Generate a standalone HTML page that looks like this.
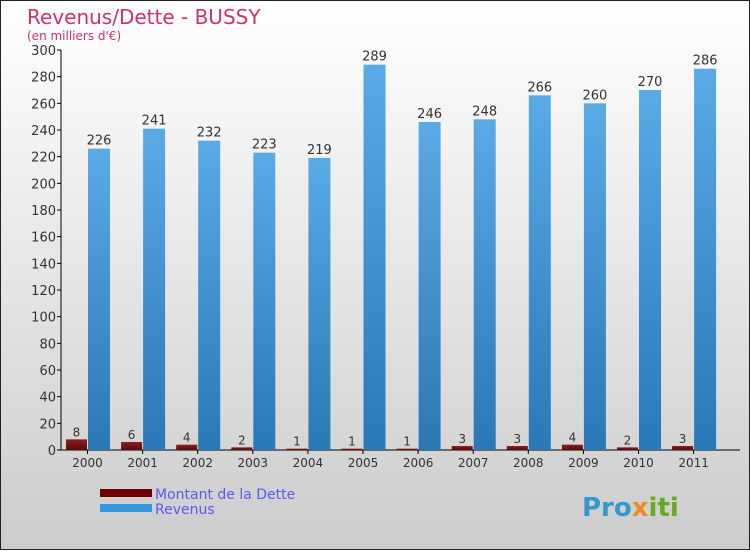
<!DOCTYPE html>
<html><head><meta charset="utf-8"><style>
body{margin:0;width:750px;height:550px;overflow:hidden;font-family:"DejaVu Sans","Liberation Sans",sans-serif}
svg text{font-family:"DejaVu Sans","Liberation Sans",sans-serif}
</style></head><body>
<svg id="c" width="750" height="550">
<defs>
<linearGradient id="bg" x1="0" y1="0" x2="0" y2="1"><stop offset="0" stop-color="#ffffff"/><stop offset="1" stop-color="#cccccc"/></linearGradient>
<linearGradient id="rv" x1="0" y1="0" x2="0" y2="1"><stop offset="0" stop-color="#5aaae6"/><stop offset="1" stop-color="#2a78b6"/></linearGradient>
<linearGradient id="dt" x1="0" y1="0" x2="0" y2="1"><stop offset="0" stop-color="#8a2020"/><stop offset="1" stop-color="#5a0a0a"/></linearGradient>
</defs>
<rect x="0.5" y="0.5" width="749" height="549" fill="url(#bg)" stroke="#222"/>
<text x="27" y="24" font-size="20" fill="#c8346a">Revenus/Dette - BUSSY</text>
<text x="27" y="40" font-size="12" fill="#c8346a">(en milliers d'€)</text>
<g id="g"></g>
<rect x="100" y="489" width="52" height="8" fill="#6a0000"/>
<text x="155" y="499" font-size="14" fill="#5a5af0">Montant de la Dette</text>
<rect x="100" y="504" width="52" height="8" fill="#3398dd"/>
<text x="155" y="514" font-size="14" fill="#5a5af0">Revenus</text>
<text x="582" y="516" font-size="26" font-weight="bold" fill="#3399cc">Pro<tspan fill="#f08a1c">x</tspan><tspan fill="#66aa22">iti</tspan></text>
</svg>
<script>
const categories=["2000","2001","2002","2003","2004","2005","2006","2007","2008","2009","2010","2011"];
const dette=[8,6,4,2,1,1,1,3,3,4,2,3];
const revenus=[226,241,232,223,219,289,246,248,266,260,270,286];
const yTicks=[0,20,40,60,80,100,120,140,160,180,200,220,240,260,280,300];
const NS="http://www.w3.org/2000/svg";
const g=document.getElementById('g');
const x0=61,y0=450,yMax=300,ph=400,step=55.1;
const y=v=>y0-v/yMax*ph;
const gx=i=>x0+5+i*step;
function mk(t,a,txt){const e=document.createElementNS(NS,t);for(const k in a)e.setAttribute(k,a[k]);if(txt!==undefined)e.textContent=txt;g.appendChild(e);return e;}
let ax=mk('line',{x1:x0,y1:50,x2:x0,y2:y0,stroke:'#000'});


let bx=mk('line',{x1:x0,y1:y0,x2:740,y2:y0,stroke:'#000'});


yTicks.forEach(v=>{
 mk('line',{x1:x0-4,y1:y(v),x2:x0,y2:y(v),stroke:'#000'});
 let t=mk('text',{x:x0-5,y:y(v)+5,'font-size':13,'text-anchor':'end',fill:'#333'},v);
 
 
});
categories.forEach((c,i)=>{
 const gs=gx(i);
 mk('line',{x1:gs+21.5,y1:y0,x2:gs+21.5,y2:y0+4,stroke:'#000'});
 let t=mk('text',{x:gs+21.5,y:y0+17,'font-size':12,'text-anchor':'middle',fill:'#333'},c);
 
 
 let d=mk('rect',{x:gs,y:y(dette[i]),width:21,height:y0-y(dette[i]),fill:'url(#dt)'});
 
 
 let dl=mk('text',{x:gs+10.5,y:y(dette[i])-3,'font-size':12,'text-anchor':'middle',fill:'#333'},dette[i]);
 
 
 let r=mk('rect',{x:gs+22,y:y(revenus[i]),width:22,height:y0-y(revenus[i]),fill:'url(#rv)'});
 
 
 let rl=mk('text',{x:gs+33,y:y(revenus[i])-4,'font-size':13,'text-anchor':'middle',fill:'#333'},revenus[i]);
 
 
});
</script>
</body></html>
